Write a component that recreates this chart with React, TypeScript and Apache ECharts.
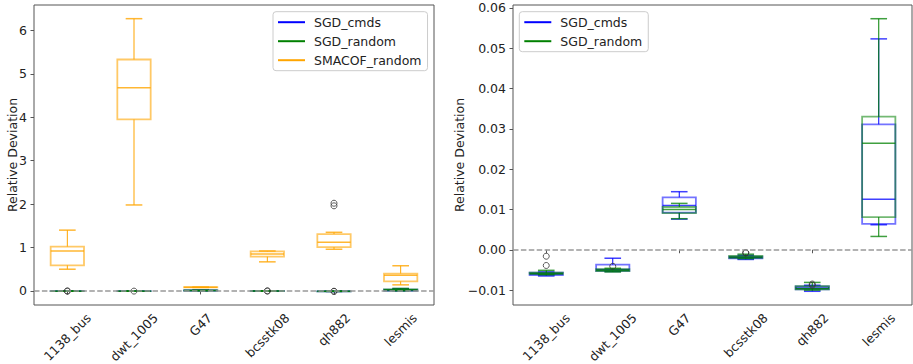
import React, { useEffect, useRef } from 'react';
import * as echarts from 'echarts';

const categories = ['1138_bus', 'dwt_1005', 'G47', 'bcsstk08', 'qh882', 'lesmis'];

// each row: [min, q1, median, q3, max]
const sgdCmds = [
  [-0.0065, -0.0063, -0.006, -0.0057, -0.0055],
  [-0.0054, -0.0052, -0.0049, -0.0037, -0.0021],
  [0.0076, 0.0092, 0.011, 0.013, 0.0144],
  [-0.0024, -0.0021, -0.0019, -0.0017, -0.0014],
  [-0.0103, -0.0098, -0.0095, -0.0091, -0.0088],
  [0.0062, 0.0064, 0.0125, 0.0311, 0.0523],
];
const sgdCmdsOutliers = [[0, -0.0016], [0, -0.0039], [3, -0.0008], [4, -0.0085]];

const sgdRandom = [
  [-0.0062, -0.006, -0.0059, -0.0057, -0.0051],
  [-0.0055, -0.0053, -0.0051, -0.0048, -0.0046],
  [0.0077, 0.0091, 0.01, 0.0106, 0.0115],
  [-0.0022, -0.002, -0.0018, -0.0015, -0.0011],
  [-0.01, -0.0098, -0.0096, -0.009, -0.0081],
  [0.0033, 0.0081, 0.0264, 0.033, 0.0573],
];
const sgdRandomOutliers = [[1, -0.0041], [3, -0.0007], [4, -0.0088]];

const smacofRandom = [
  [0.5, 0.59, 0.92, 1.02, 1.4],
  [1.98, 3.95, 4.68, 5.33, 6.27],
  [0.08, 0.08, 0.085, 0.085, 0.085],
  [0.67, 0.79, 0.85, 0.91, 0.92],
  [0.96, 1.01, 1.12, 1.31, 1.35],
  [0.14, 0.22, 0.36, 0.4, 0.58],
];
const smacofRandomOutliers = [[4, 1.96], [4, 2.02]];

const leftTicks = [0, 1, 2, 3, 4, 5, 6];
const rightTicks = [-0.01, 0, 0.01, 0.02, 0.03, 0.04, 0.05, 0.06];

const LEFT_MIN = -0.324;
const LEFT_MAX = 6.585;
const RIGHT_MIN = -0.0137;
const RIGHT_MAX = 0.0607;

const FONT = 'DejaVu Sans';
const FS = 12.5;
const TEXT = '#222';
const FRAME = '#555';

const COLORS: Record<string, [string, string, string]> = {
  SGD_cmds: ['#0000ff', 'rgba(0,0,255,0.55)', 'rgba(0,0,255,0.75)'],
  SGD_random: ['#008000', 'rgba(0,128,0,0.55)', 'rgba(0,128,0,0.75)'],
  SMACOF_random: ['#ffa500', 'rgba(255,165,0,0.6)', 'rgba(255,165,0,0.8)'],
};

// approximate DejaVu Sans advance widths (em) for label layout
const CHAR_EM: Record<string, number> = {
  '0': 0.636, '1': 0.636, '2': 0.636, '3': 0.636, '4': 0.636, '5': 0.636, '6': 0.636, '7': 0.636, '8': 0.636, '9': 0.636,
  _: 0.5, b: 0.635, u: 0.634, s: 0.521, d: 0.635, w: 0.818, t: 0.392, G: 0.775, c: 0.55, k: 0.579, q: 0.635, h: 0.634,
  l: 0.278, e: 0.615, m: 0.974, i: 0.278,
};
function textWidth(text: string) {
  let em = 0;
  for (const ch of text) em += CHAR_EM[ch] ?? 0.6;
  return em * FS;
}

function boxRenderer(name: string) {
  const [solid, light, mid] = COLORS[name];
  return (params: any, api: any) => {
    const x = api.value(0);
    const pts = [1, 2, 3, 4, 5].map((k) => api.coord([x, api.value(k)]));
    const [pMin, pQ1, pMed, pQ3, pMax] = pts;
    const cx = pMin[0];
    const bw = api.size([1, 0])[0] * 0.5;
    const cw = bw / 2;
    return {
      type: 'group',
      children: [
        { type: 'line', shape: { x1: cx, y1: pQ3[1], x2: cx, y2: pMax[1] }, style: { stroke: solid, lineWidth: 1 } },
        { type: 'line', shape: { x1: cx, y1: pQ1[1], x2: cx, y2: pMin[1] }, style: { stroke: solid, lineWidth: 1 } },
        { type: 'line', shape: { x1: cx - cw / 2, y1: pMax[1], x2: cx + cw / 2, y2: pMax[1] }, style: { stroke: mid, lineWidth: 1.5 } },
        { type: 'line', shape: { x1: cx - cw / 2, y1: pMin[1], x2: cx + cw / 2, y2: pMin[1] }, style: { stroke: mid, lineWidth: 1.5 } },
        {
          type: 'rect',
          shape: { x: cx - bw / 2, y: pQ3[1], width: bw, height: Math.max(pQ1[1] - pQ3[1], 0) },
          style: { fill: 'none', stroke: light, lineWidth: 1.8 },
        },
        { type: 'line', shape: { x1: cx - bw / 2, y1: pMed[1], x2: cx + bw / 2, y2: pMed[1] }, style: { stroke: mid, lineWidth: 1.5 } },
      ],
    };
  };
}

function boxSeries(name: string, rows: number[][], axisIndex: number) {
  return {
    type: 'custom',
    name,
    xAxisIndex: axisIndex,
    yAxisIndex: axisIndex,
    itemStyle: { color: COLORS[name][0] },
    renderItem: boxRenderer(name),
    encode: { x: 0, y: [1, 2, 3, 4, 5] },
    data: rows.map((r, i) => [i, ...r]),
    z: 2,
  };
}

function outlierSeries(data: number[][], axisIndex: number) {
  return {
    type: 'scatter',
    name: 'outliers',
    xAxisIndex: axisIndex,
    yAxisIndex: axisIndex,
    symbol: 'circle',
    symbolSize: 6,
    itemStyle: { color: 'rgba(0,0,0,0)', borderColor: '#333', borderWidth: 1 },
    data,
    z: 4,
    markLine: {
      silent: true,
      symbol: ['none', 'none'],
      label: { show: false },
      lineStyle: { color: '#999', width: 1.5, type: [5.5, 2.4] },
      data: [{ yAxis: 0 }],
    },
  };
}

function fmtRight(v: number) {
  const s = Math.abs(v) < 1e-12 ? '0.00' : Math.abs(v).toFixed(2);
  return v < -1e-12 ? '\u2212' + s : s;
}

export default function App() {
  const ref = useRef<HTMLDivElement>(null);
  useEffect(() => {
    if (!ref.current) return;
    const chart = echarts.init(ref.current, undefined, { renderer: 'svg' });

    const xAxisBase = (gridIndex: number) => ({
      type: 'category',
      gridIndex,
      data: categories,
      boundaryGap: true,
      axisLine: { show: false },
      axisTick: { show: true, alignWithLabel: true, length: 3.5, lineStyle: { color: FRAME } },
      splitLine: { show: false },
      axisLabel: { show: false },
    });

    const yAxisBase = (gridIndex: number, min: number, max: number, ticks: number[], fmt: (v: number) => string, gap: number) => ({
      type: 'value',
      gridIndex,
      min,
      max,
      name: 'Relative Deviation',
      nameLocation: 'middle',
      nameGap: gap,
      nameMoveOverlap: false,
      nameTextStyle: { fontSize: FS, fontFamily: FONT, color: TEXT },
      axisLine: { show: false },
      splitLine: { show: false },
      axisTick: { show: true, length: 3.5, lineStyle: { color: FRAME }, customValues: ticks },
      axisLabel: { fontSize: FS, fontFamily: FONT, color: TEXT, margin: 7, customValues: ticks, formatter: fmt },
    });

    const legendBase = {
      orient: 'vertical',
      top: 11.7,
      icon: 'rect',
      itemWidth: 27,
      itemHeight: 2,
      itemGap: 4,
      selectedMode: false,
      backgroundColor: '#fff',
      borderColor: '#ccc',
      borderWidth: 1,
      borderRadius: 3,
      padding: [3, 6, 3, 5],
      textStyle: { fontSize: FS, fontFamily: FONT, color: TEXT, lineHeight: 15, padding: [0, 0, 0, 4] },
    };

    const gridBase = {
      top: 5,
      height: 300,
      show: true,
      borderColor: FRAME,
      borderWidth: 1,
      backgroundColor: 'transparent',
      containLabel: false,
      outerBoundsMode: 'none',
    };

    chart.setOption({
      animation: false,
      backgroundColor: '#fff',
      grid: [
        { ...gridBase, left: 34, width: 400 },
        { ...gridBase, left: 513, width: 399 },
      ],
      xAxis: [xAxisBase(0), xAxisBase(1)],
      yAxis: [
        yAxisBase(0, LEFT_MIN, LEFT_MAX, leftTicks, (v: number) => String(Math.round(v)), 15),
        yAxisBase(1, RIGHT_MIN, RIGHT_MAX, rightTicks, fmtRight, 47),
      ],
      legend: [
        { ...legendBase, left: 273, data: ['SGD_cmds', 'SGD_random', 'SMACOF_random'] },
        { ...legendBase, left: 519.3, data: ['SGD_cmds', 'SGD_random'] },
      ],
      series: [
        boxSeries('SGD_cmds', sgdCmds, 0),
        boxSeries('SGD_random', sgdRandom, 0),
        boxSeries('SMACOF_random', smacofRandom, 0),
        outlierSeries([...sgdCmdsOutliers, ...sgdRandomOutliers, ...smacofRandomOutliers], 0),
        boxSeries('SGD_cmds', sgdCmds, 1),
        boxSeries('SGD_random', sgdRandom, 1),
        outlierSeries([...sgdCmdsOutliers, ...sgdRandomOutliers], 1),
      ],
    });

    // Rotated category labels centred under each tick, placed from the axes' own scales
    const labels: any[] = [];
    const mins = [LEFT_MIN, RIGHT_MIN];
    [0, 1].forEach((g) => {
      categories.forEach((c, i) => {
        const p = chart.convertToPixel({ xAxisIndex: g, yAxisIndex: g } as any, [i, mins[g]]) as number[];
        if (!p) return;
        const w = textWidth(c);
        labels.push({
          type: 'text',
          x: p[0],
          y: p[1] + 6 + 0.354 * (w + 13),
          rotation: Math.PI / 4,
          silent: true,
          style: { text: c, fontSize: FS, fontFamily: FONT, fill: TEXT, align: 'center', verticalAlign: 'middle' },
        });
      });
    });
    chart.setOption({ graphic: labels });

    return () => chart.dispose();
  }, []);
  return (
    <div
      ref={ref}
      style={{ position: 'fixed', left: 0, top: 0, width: 913, height: 364, background: '#fff' }}
    />
  );
}
